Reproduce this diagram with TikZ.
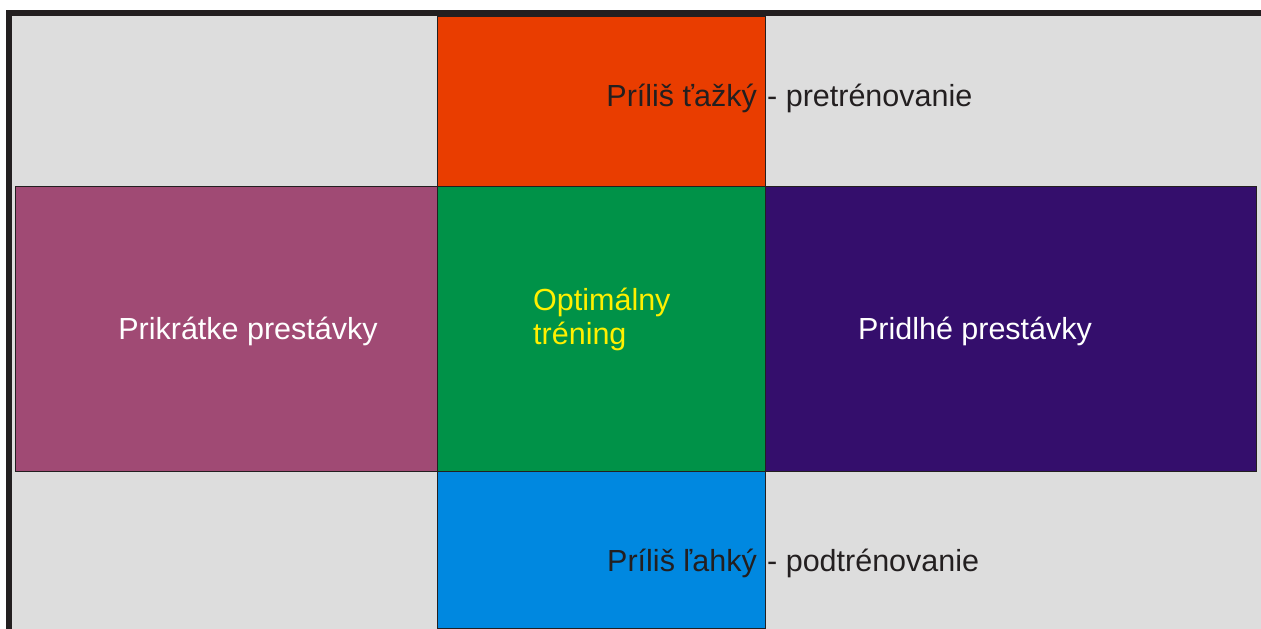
\documentclass[tikz,border=0pt]{standalone}
\usepackage{fontspec}
\setmainfont{Liberation Sans}
\definecolor{paper}{RGB}{221,221,221}
\definecolor{frameink}{RGB}{35,31,32}
\definecolor{heavyred}{RGB}{233,61,0}
\definecolor{shortmag}{RGB}{160,74,116}
\definecolor{optgreen}{RGB}{0,146,72}
\definecolor{longpurple}{RGB}{52,14,108}
\definecolor{lightblue}{RGB}{0,136,224}
\definecolor{labelyellow}{RGB}{255,240,0}
\begin{document}
\begin{tikzpicture}[x=1pt,y=-1pt,
  zone/.style={draw=frameink, line width=1pt, inner sep=0pt, anchor=north west},
  bigtext/.style={font=\fontsize{30.5}{34}\selectfont, inner sep=0pt},
  darktext/.style={bigtext, text=frameink},
  lighttext/.style={bigtext, text=white}]
  \useasboundingbox (0,0) rectangle (1261,629);
  % page, grey field and heavy frame on top and left
  \fill[white] (0,0) rectangle (1261,629);
  \fill[paper] (12,16) rectangle (1261,629);
  \fill[frameink] (6,10) rectangle (1261,16);
  \fill[frameink] (6,10) rectangle (12,629);

  % the five zones
  \node[zone, fill=heavyred, minimum width=328pt, minimum height=170pt] (hard) at (437,16) {};
  \node[zone, fill=shortmag, minimum width=422pt, minimum height=285pt] (short) at (15,186) {};
  \node[zone, fill=optgreen, minimum width=328pt, minimum height=285pt] (opt) at (437,186) {};
  \node[zone, fill=longpurple, minimum width=491pt, minimum height=285pt] (long) at (765,186) {};
  \node[zone, fill=lightblue, minimum width=328pt, minimum height=157pt] (easy) at (437,471) {};

  % labels
  \node[darktext, anchor=base east] (hardA) at (757,106) {Príliš ťažký};
  \node[darktext, anchor=base west] (hardB) at (767,106) {- pretrénovanie};
  \node[darktext, anchor=base east] (easyA) at (757,571) {Príliš ľahký};
  \node[darktext, anchor=base west] (easyB) at (767,571) {- podtrénovanie};
  \node[lighttext, anchor=base] (shortT) at (248,339) {Prikrátke prestávky};
  \node[lighttext, anchor=base] (longT) at (975,339) {Pridlhé prestávky};
  \node[bigtext, text=labelyellow, anchor=base west, align=left] (optT) at (533,344) {Optimálny\\tréning};
\end{tikzpicture}
\end{document}
